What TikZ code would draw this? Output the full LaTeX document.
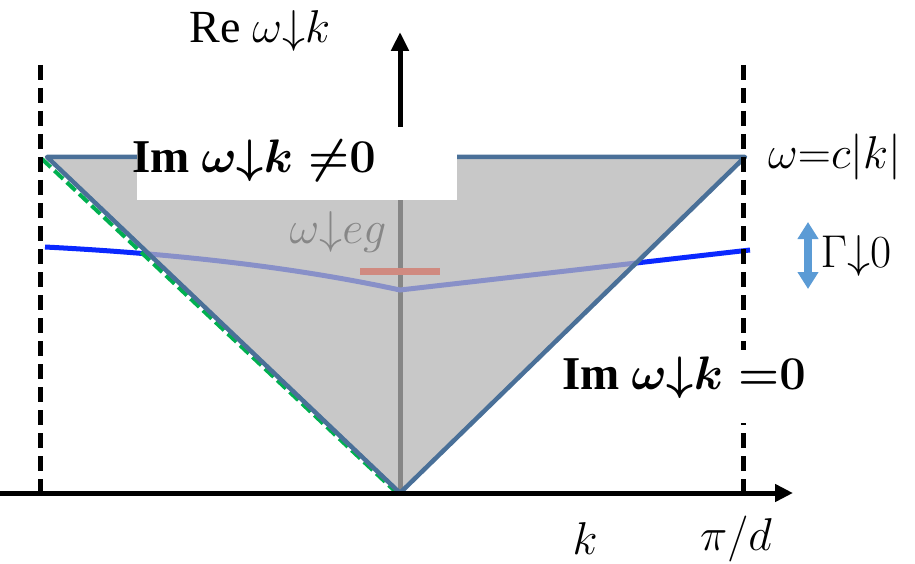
\documentclass[tikz,border=0pt]{standalone}
\usepackage{fix-cm}
\usepackage{fontspec}
\setmainfont{Liberation Serif}
\usepackage{amsmath, amssymb, bm}
\usetikzlibrary{arrows.meta, positioning}

\definecolor{coneblue}{RGB}{74,112,152}
\definecolor{conegreen}{RGB}{0,176,80}
\definecolor{bandblue}{RGB}{10,40,255}
\definecolor{gammablue}{RGB}{91,155,213}
\definecolor{egred}{RGB}{208,138,128}
\definecolor{conefill}{RGB}{181,181,181}

\begin{document}
\begin{tikzpicture}[
			x=1pt, y=-1pt,
			axis/.style={line width=5pt, -{Triangle[length=18pt, width=17pt]}},
			zone/.style={line width=5pt, dash pattern=on 15pt off 8pt},
			lbl/.style={font=\fontsize{46}{52}\selectfont, inner sep=0pt},
			biglbl/.style={font=\fontsize{47}{54}\selectfont\bfseries, inner sep=0pt}
			]
			\useasboundingbox (0,0) rectangle (915,564);
			
			% Cone corners
			\coordinate (apex) at (400,493);
			\coordinate (tl) at (47,157);
			\coordinate (tr) at (745,157);
			
			% Re axis (under the cone)
			\draw[axis, -{Triangle[length=19pt, width=17pt]}] (apex) -- (400,32);
			
			% Band and light line
			\draw[bandblue, line width=5pt] (45,247) .. controls (220,256) and (330,275) .. (400,290) -- (750,250);
			\draw[conegreen, line width=4pt, dash pattern=on 12pt off 5pt] (42,159) -- (398,494);
			
			% Cone
			\filldraw[fill=conefill, fill opacity=0.74, draw=coneblue, line width=4.5pt, line join=round] (tl) -- (apex) -- (tr) -- cycle;
			
			% Label box
			\fill[white] (137,127) rectangle (457,200);
			\node[biglbl] (imne) at (254,161) {Im {\boldmath$\omega{\downarrow}k\;{\neq}\mathbf{0}$}};
			
			\node[lbl, text=black!47] (weg) at (338,232) {$\omega{\downarrow}eg$};
			\draw[egred, line width=7pt] (360,271) -- (440,271);
			
			% Zone edges and k axis
			\draw[zone] (40,65) -- (40,493);
			\draw[zone] (743,65) -- (743,493);
			\draw[axis] (0,493) -- (793,493);
			
			% Labels
			\node[lbl] (rek) at (260,31) {Re $\omega{\downarrow}k$};
			\node[lbl, right=23pt of tr] (light) {$\omega{=}c|k|$};
			\draw[gammablue, line width=8pt, {Triangle[length=17pt, width=20pt]}-{Triangle[length=17pt, width=20pt]}] (808,222) -- (808,289);
			\node[lbl] (gam) at (856,256) {$\Gamma{\downarrow}0$};
			\fill[white] (562,350) rectangle (808,423);
			\node[biglbl] (imeq) at (684,378) {Im {\boldmath$\omega{\downarrow}k\;{=}\mathbf{0}$}};
			\node[lbl] (kx) at (585,539) {$k$};
			\node[lbl] (edge) at (736,539) {$\pi/d$};
			
		\end{tikzpicture}
\end{document}
